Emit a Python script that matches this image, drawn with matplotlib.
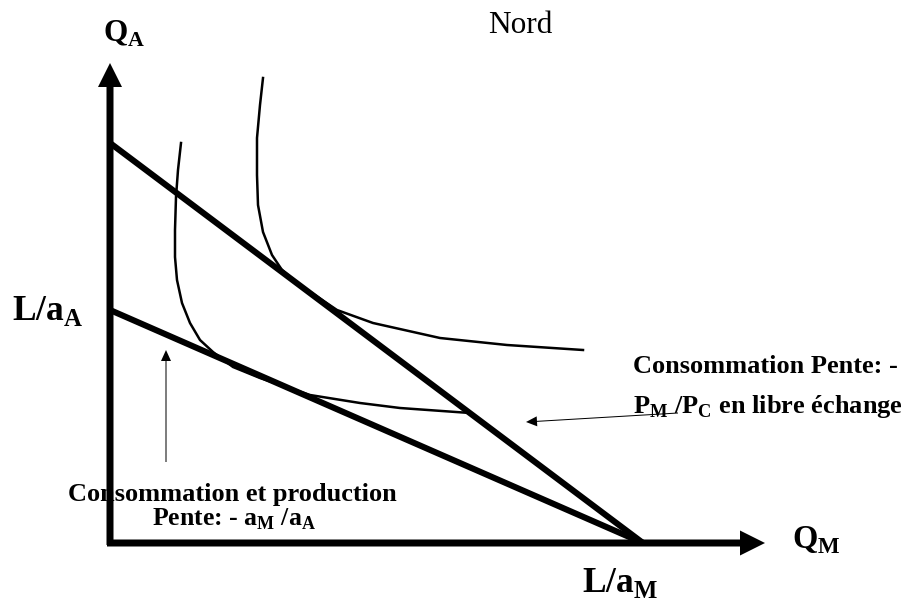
import matplotlib
matplotlib.use("Agg")
import matplotlib.pyplot as plt

plt.rcParams['font.family'] = ['Liberation Serif', 'DejaVu Serif']
plt.rcParams['mathtext.fontset'] = 'custom'
plt.rcParams['mathtext.bf'] = 'Liberation Serif:bold'
plt.rcParams['mathtext.rm'] = 'Liberation Serif:bold'

# ---- data (diagram units: Q_M horizontal, Q_A vertical) ----
free_trade_qm = [0, 533]          # budget line, free trade
free_trade_qa = [400, 0]
autarky_qm = [0, 533]             # production possibility frontier
autarky_qa = [233, 0]

ic_low_qm = [71, 68, 66, 65, 65, 67, 72, 80, 90, 103, 123, 150, 200, 250, 290, 360]
ic_low_qa = [400, 373, 346, 313, 286, 263, 240, 220, 203, 191, 176, 165, 148, 140, 135, 130]
ic_high_qm = [153, 150, 147, 147, 148, 153, 162, 172, 190, 227, 263, 330, 397, 473]
ic_high_qa = [465, 438, 405, 368, 338, 311, 288, 273, 258, 233, 220, 205, 198, 193]

axis_max_qm = 655
axis_max_qa = 480

title = "Nord"
label_qa = r"Q$_\mathbf{A}$"
label_qm = r"Q$_\mathbf{M}$"
label_la = r"L/a$_\mathbf{A}$"
label_lm = r"L/a$_\mathbf{M}$"
note_free = ["Consommation Pente: -", r"P$_\mathbf{M}$ /P$_\mathbf{C}$ en libre échange"]
note_aut = ["Consommation et production", r"Pente: - a$_\mathbf{M}$ /a$_\mathbf{A}$"]

fig = plt.figure(figsize=(9.05, 6.08), dpi=100)
ax = fig.add_axes([0, 0, 1, 1])
ax.set_xlim(-110, 795)
ax.set_ylim(-65, 543)
ax.axis('off')

# axes arrows
ax.arrow(0, -2, 0, axis_max_qa + 2, width=7, head_width=24, head_length=24,
         length_includes_head=True, fc='black', ec='black', lw=0, zorder=5)
ax.arrow(-3, 0, axis_max_qm + 3, 0, width=7, head_width=25, head_length=25,
         length_includes_head=True, fc='black', ec='black', lw=0, zorder=5)

# budget lines
ax.plot(free_trade_qm, free_trade_qa, color='black', lw=4.4, solid_capstyle='butt', zorder=4)
ax.plot(autarky_qm, autarky_qa, color='black', lw=4.4, solid_capstyle='butt', zorder=4)

# indifference curves
ax.plot(ic_low_qm, ic_low_qa, color='black', lw=1.8, zorder=3, solid_joinstyle='round')
ax.plot(ic_high_qm, ic_high_qa, color='black', lw=1.8, zorder=3, solid_joinstyle='round')

# annotation arrows
ax.arrow(56, 81, 0, 112, width=1.0, head_width=10, head_length=11,
         length_includes_head=True, fc='black', ec='black', lw=0, zorder=3)
ax.arrow(568, 130, -152, -9, width=1.0, head_width=10, head_length=11,
         length_includes_head=True, fc='black', ec='black', lw=0, zorder=3)

# texts
ax.text(378, 510, title, fontsize=22.5, ha='left', va='baseline', zorder=1)
ax.text(-7, 501, label_qa, fontsize=22.5, fontweight='bold', ha='left', va='baseline', zorder=1)
ax.text(682, -5, label_qm, fontsize=23.5, fontweight='bold', ha='left', va='baseline', zorder=1)
ax.text(-98, 223, label_la, fontsize=25.5, fontweight='bold', ha='left', va='baseline', zorder=1)
ax.text(472, -49, label_lm, fontsize=25.5, fontweight='bold', ha='left', va='baseline', zorder=1)

ax.text(523, 170, note_free[0], fontsize=19, fontweight='bold', ha='left', va='baseline', zorder=1)
ax.text(523, 130, note_free[1], fontsize=19, fontweight='bold', ha='left', va='baseline', zorder=1)
ax.text(-42, 42, note_aut[0], fontsize=19, fontweight='bold', ha='left', va='baseline', zorder=1)
ax.text(42, 17, note_aut[1], fontsize=18.5, fontweight='bold', ha='left', va='baseline', zorder=1)

fig.savefig("out.png", dpi=100, facecolor='white')
